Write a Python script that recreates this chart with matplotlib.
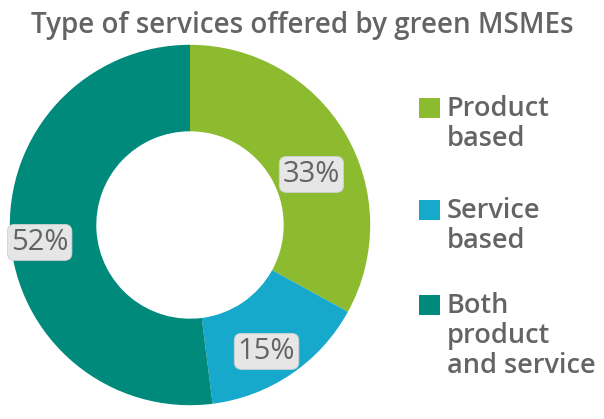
import numpy as np
import matplotlib.pyplot as plt
from matplotlib.patches import Rectangle

plt.rcParams['font.family'] = ['Open Sans', 'DejaVu Sans']

categories = ['Product\nbased', 'Service\nbased', 'Both\nproduct\nand service']
shares = [33, 15, 52]
colors = ['#8cbb2f', '#17a9cc', '#008a7c']
text_grey = '#636466'

fig = plt.figure(figsize=(6.04, 4.19), dpi=100)
fig.patch.set_facecolor('white')

# donut: center ~ (190, 225) px, radius 180 px
ax = fig.add_axes([(190 - 182) / 604, 1 - (225 + 182) / 419, 364 / 604, 364 / 419])
wedges, _ = ax.pie(shares, colors=colors, startangle=90, counterclock=False,
                   radius=1.0, wedgeprops=dict(width=0.48, edgecolor='none'))
ax.set_xlim(-1.01, 1.01)
ax.set_ylim(-1.01, 1.01)
ax.set_aspect('equal')
ax.axis('off')

# percentage tags sitting on the ring
label_r = [0.73, 0.82, 0.84]
angle_shift = [8, 3, -3]
cum = np.cumsum([0] + shares)
for i, v in enumerate(shares):
    mid = (cum[i] + v / 2) / 100 * 360 + angle_shift[i]
    theta = np.deg2rad(90 - mid)
    x, y = label_r[i] * np.cos(theta), label_r[i] * np.sin(theta)
    ax.text(x, y, f'{v}%', ha='center', va='center', fontsize=21, color=text_grey,
            bbox=dict(boxstyle='round,pad=0.12,rounding_size=0.25', fc='#e6e6e7', ec='#d0d0d2', lw=0.6))

fig.text(302 / 604, 1 - 26 / 419, 'Type of services offered by green MSMEs', ha='center', va='center',
         fontsize=20, fontweight='semibold', color=text_grey)

# legend drawn by hand so the swatch lines up with the first text line
legend_top = [108, 210, 305]
for lbl, col, yt in zip(categories, colors, legend_top):
    fig.patches.append(Rectangle((419 / 604, 1 - (yt + 10) / 419), 21 / 604, 20 / 419,
                                 transform=fig.transFigure, fc=col, ec='none'))
    fig.text(447 / 604, 1 - (yt - 13) / 419, lbl, ha='left', va='top', fontsize=19.5,
             fontweight='semibold', color=text_grey, linespacing=1.1)

fig.savefig('out.png', dpi=100, facecolor='white')
